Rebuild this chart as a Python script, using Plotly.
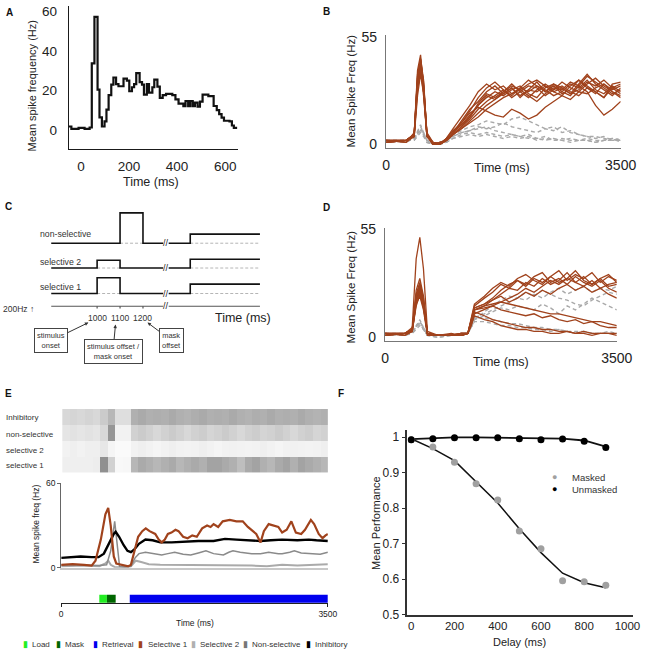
import plotly.graph_objects as go

W = H = 658
FONT = "Liberation Sans, Arial, sans-serif"
TXT = "#222222"
BROWN = "#a0421c"
GDASH = "#a9a9a9"

# ---------------- Panel A : PSTH ----------------
a_time = [-50,-40,-10,15,36,45,56,69,77,87,98,106,115,126,135,146,156,177,191,201,212,221,230,244,254,
          262,274,283,297,305,318,328,340,354,380,393,406,426,435,446,455,465,474,485,495,506,530,552,565,
          575,585,595,618,628,636,650]
a_rate = [2,0.8,1.3,0.8,1.5,33.7,57,20.5,6.6,2,4.6,10.5,17.8,23,26.6,23.3,22.2,26,25,19.7,21.7,23.3,28.8,
          24.3,23,18,23.3,19,21.7,25.5,22,16.4,17.8,18.4,17.8,15.6,13.5,12.2,14.8,12.2,14.8,12.2,14,12,14.5,
          18,17.3,12.3,10.2,8.2,6.5,4.9,4.6,2.5,1.3,1.3]

# ---------------- Panel B : unmasked traces ----------------
b_time = [0,300,420,470,515,560,610,700,800,900,1000,1125,1250,1375,1500,1625,1750,1875,2000,2125,2250,
          2375,2500,2625,2750,2875,3000,3125,3250,3375,3500]
b_sel = [
    [2,2,5,38,46,30,6,1,0,3,8,14,20,27,31,28,30,26,29,27,30,28,25,27,31,29,33,28,26,30,27],
    [1,2,4,35,44,33,5,0,0,2,6,12,18,22,27,30,26,29,24,28,32,27,30,26,28,33,30,27,24,29,31],
    [2,1,6,30,40,28,4,1,0,3,7,10,15,20,24,27,25,28,30,26,24,29,31,27,25,30,35,32,29,26,28],
    [1,2,5,33,42,31,5,0,1,2,5,9,13,18,22,25,28,24,27,30,29,25,28,32,29,27,31,34,30,27,25],
    [2,2,4,28,38,25,4,1,0,2,5,8,12,16,20,23,26,29,25,28,27,30,27,25,30,33,29,26,31,28,30],
    [1,2,5,36,44,30,5,0,0,3,7,11,16,19,17,15,14,18,16,13,15,19,22,25,23,27,26,29,31,27,24],
    [2,1,4,25,36,27,4,0,1,2,6,10,14,20,25,23,27,30,28,25,22,26,29,28,32,30,27,20,15,18,22],
    [1,2,5,32,41,29,5,1,0,2,5,8,11,14,18,21,24,26,28,31,33,30,27,29,26,31,36,31,28,25,29],
    [2,2,5,34,43,32,5,0,0,2,6,11,17,24,29,32,28,25,29,33,30,27,31,29,26,28,32,30,33,29,26],
    [1,2,4,30,39,27,4,1,0,2,5,9,14,21,26,24,27,31,27,24,28,31,28,30,27,25,29,27,24,31,32],
]
b_other = [
    [2,2,3,7,10,6,2,0,0,2,4,6,7,8,9,7,6,5,4,5,3,4,2,3,2,2,3,2,2,3,2],
    [1,2,2,5,8,5,1,0,1,2,5,7,9,10,12,11,10,13,14,12,10,8,9,6,7,5,4,3,4,2,3],
    [2,1,3,6,9,6,2,0,0,1,3,5,6,5,6,5,4,5,4,3,3,2,3,2,3,2,2,1,2,2,3],
    [1,2,2,4,6,4,1,0,0,2,4,6,7,9,8,9,11,9,8,7,6,8,7,9,6,5,4,4,3,2,2],
    [2,2,3,5,7,5,2,1,0,1,3,4,5,4,5,4,3,4,3,4,2,3,2,2,1,2,2,1,2,3,1],
]

# ---------------- Panel D : masked traces ----------------
d_time = [0,300,410,470,525,580,640,800,1000,1150,1250,1300,1350,1500,1625,1750,1875,2000,2125,2250,2375,
          2500,2625,2750,2875,3000,3125,3250,3375,3500]
d_sel = [
    [2,2,5,40,51,35,3,1,1,1,2,8,15,17,20,24,27,29,26,30,28,31,34,29,32,30,33,28,31,29],
    [1,2,4,22,28,20,2,1,1,2,2,7,14,16,19,22,25,24,28,26,30,27,29,33,28,31,27,30,26,27],
    [2,1,3,18,24,17,2,1,1,1,2,9,16,20,23,27,25,29,27,31,33,28,30,27,31,28,26,29,25,23],
    [1,2,4,20,26,18,2,1,2,1,2,6,12,14,16,18,20,22,25,23,26,29,27,30,28,26,29,25,27,28],
    [2,2,3,16,22,15,2,1,1,2,2,8,14,15,16,14,13,12,11,12,10,11,9,8,9,7,8,6,5,5],
    [1,2,4,19,25,16,2,1,1,1,2,7,13,11,9,8,7,6,5,5,4,4,3,3,2,3,2,2,2,2],
    [2,1,3,17,21,14,1,1,1,2,2,6,11,9,8,6,5,4,4,3,3,2,2,3,2,2,1,2,2,1],
    [1,2,4,21,27,19,2,1,1,1,2,8,15,17,19,21,18,20,23,21,24,22,25,27,24,26,23,25,22,20],
    [2,2,4,24,30,21,2,1,1,1,2,9,17,21,25,28,26,30,32,29,27,31,28,30,34,29,27,30,32,28],
    [1,2,3,18,23,16,2,1,1,2,2,7,14,16,17,18,17,16,15,14,13,12,12,11,10,9,8,8,7,6],
]
d_other = [
    [2,1,2,6,9,5,1,1,1,2,2,6,10,12,14,16,18,20,19,22,20,23,25,22,24,26,23,25,24,26],
    [1,2,2,5,8,5,1,0,1,1,2,5,9,11,13,15,14,16,15,14,17,15,12,16,14,17,20,18,16,14],
    [2,2,3,5,7,4,1,1,1,2,2,5,8,8,7,6,6,5,5,4,4,3,4,3,2,3,2,2,3,2],
    [1,2,2,4,6,4,1,0,1,1,2,6,10,10,9,8,7,7,6,5,5,4,4,3,3,3,2,2,2,2],
    [2,1,3,6,8,5,1,1,1,2,2,5,9,13,16,19,21,20,23,21,24,22,20,19,17,16,19,21,23,22],
]

# ---------------- Panel C : input schematic ----------------
c_names = ["non-selective", "selective 2", "selective 1"]
c_base = [78.0, 52.7, 26.7]
c_pulse = [109.0, 60.7, 42.7]
c_on = [1100, 1000, 1000]
c_off = [1200, 1100, 1100]
c_late = [87.3, 61.7, 36.3]
c_start, c_end = 800, 1710
c_break = [1288, 1312]
c_late_on = 1406
c_axis_level = 13.7
c_ticks = [1000, 1100, 1200]

# ---------------- Panel E : network simulation ----------------
r_sel1 = [0.12,0.12,0.12,0.12,0.14,0.85,0.35,0.05,0.06,0.55,0.65,0.6,0.55,0.6,0.65,0.55,0.6,0.65,0.6,0.7,
          0.7,0.65,0.6,0.5,0.65,0.7,0.6,0.55,0.65,0.7,0.6,0.7,0.65,0.6,0.55]
r_sel2 = [0.1,0.12,0.1,0.12,0.12,0.18,0.08,0.04,0.04,0.1,0.12,0.1,0.08,0.1,0.12,0.1,0.09,0.1,0.12,0.1,
          0.08,0.1,0.11,0.1,0.09,0.1,0.12,0.1,0.08,0.1,0.11,0.1,0.09,0.1,0.12]
r_non = [0.2,0.22,0.2,0.22,0.2,0.3,0.8,0.1,0.1,0.35,0.4,0.35,0.3,0.35,0.4,0.35,0.3,0.35,0.38,0.32,0.35,
         0.4,0.35,0.3,0.35,0.38,0.33,0.35,0.4,0.35,0.3,0.35,0.38,0.32,0.35]
r_inh = [0.3,0.32,0.3,0.33,0.3,0.4,0.55,0.25,0.25,0.6,0.65,0.6,0.62,0.6,0.65,0.6,0.58,0.62,0.65,0.6,0.62,
         0.6,0.65,0.6,0.58,0.62,0.6,0.65,0.6,0.62,0.6,0.65,0.6,0.58,0.6]

e_s1_t = [0,150,300,400,450,520,580,617,650,690,723,800,880,915,960,1010,1064,1110,1160,1234,1280,1319,1360,
          1400,1447,1500,1540,1600,1660,1720,1780,1850,1915,1960,2000,2060,2120,2213,2300,2383,2450,2500,2560,
          2617,2660,2723,2780,2850,2900,2960,3021,3080,3150,3200,3277,3320,3380,3430,3470,3500]
e_s1_v = [2,2.5,2,1.5,5,20,38,42.5,30,8,3,2,1,2,12,22,26,28,26,24,20,18,20,24,25,27,26,22,21,23,22,28,30,29,
          31,29,33,34,33,33,29,27,24,18,26,31,30,29,25,27,33,25,24,27,34,31,24,21,23,24]
e_inh_t = [0,100,255,400,490,560,630,690,715,760,820,870,915,960,1020,1106,1200,1300,1450,1600,1800,2000,2150,
           2300,2500,2617,2750,2900,3100,3250,3350,3500]
e_inh_v = [7,7.5,8,7.5,7.5,10,18,24,25.6,22,16,12,11,13,17,20,19.5,18,18,18.5,19,19,20.5,20,19.5,19,19.5,20,
           19.5,20,19.5,19]
e_non_t = [0,300,500,596,650,702,730,766,850,915,970,1021,1106,1200,1319,1400,1490,1600,1700,1800,1900,2000,
           2129,2200,2255,2350,2500,2617,2723,2850,2900,3000,3060,3150,3277,3400,3500]
e_non_v = [2,1.5,1.5,2,12,33,18,1,0.5,1,7,10,11,10,9,10,11,9.5,9,10.5,12,10,9,11,12,11,10,10,11,10,10,11,12,
           10.5,10,9.5,11]
e_s2_t = [0,300,500,580,617,650,700,800,915,980,1050,1150,1300,1500,1700,1900,2100,2300,2500,2700,2900,3100,
          3300,3500]
e_s2_v = [1,1.5,1,3,5,2,0.5,0.3,1,5,4,2.5,2,2,1.5,2,1.5,2,1.5,1,2,1.5,2,2.5]

epochs = ["Load", "Mask", "Retrieval"]
epoch_start = [500, 600, 900]
epoch_end = [600, 715, 3500]
epoch_col = ["#22ee22", "#006600", "#0000ee"]

# ---------------- Panel F : performance ----------------
f_delay = [0,100,200,300,400,500,600,700,800,900]
f_unmasked = [0.993,0.996,0.999,0.999,0.999,0.996,0.993,0.995,0.989,0.971]
f_masked = [0.993,0.973,0.930,0.869,0.823,0.736,0.686,0.596,0.593,0.583]
f_fit_unmasked = [0.995,0.998,1.0,1.0,0.999,0.998,0.998,0.996,0.991,0.974]
f_fit_masked = [0.996,0.968,0.934,0.875,0.815,0.742,0.675,0.617,0.59,0.576]


def X(p):
    return p / W


def Y(p):
    return 1 - p / H


def dx(a, b):
    return [X(a), X(b)]


def dy(top, bot):
    return [Y(bot), Y(top)]


fig = go.Figure()

# A
fig.add_trace(go.Scatter(x=a_time, y=a_rate, mode="lines", line=dict(color="#111111", width=2.2, shape="hv"),
                         xaxis="x", yaxis="y", showlegend=False))

# B
for s in b_other:
    fig.add_trace(go.Scatter(x=b_time, y=s, mode="lines", line=dict(color=GDASH, width=1.4, dash="4px,3px"),
                             xaxis="x2", yaxis="y2", showlegend=False))
for s in b_sel:
    fig.add_trace(go.Scatter(x=b_time, y=s, mode="lines", line=dict(color=BROWN, width=1.3),
                             xaxis="x2", yaxis="y2", showlegend=False))

# D
for s in d_other:
    fig.add_trace(go.Scatter(x=d_time, y=s, mode="lines", line=dict(color=GDASH, width=1.4, dash="4px,3px"),
                             xaxis="x4", yaxis="y4", showlegend=False))
for s in d_sel:
    fig.add_trace(go.Scatter(x=d_time, y=s, mode="lines", line=dict(color=BROWN, width=1.3),
                             xaxis="x4", yaxis="y4", showlegend=False))

# C
for i in range(3):
    b, p, on, off, late = c_base[i], c_pulse[i], c_on[i], c_off[i], c_late[i]
    fig.add_trace(go.Scatter(x=[on, off, None, c_late_on, c_end], y=[b, b, None, b, b], mode="lines",
                             line=dict(color="#b5b5b5", width=1, dash="3px,2px"),
                             xaxis="x3", yaxis="y3", showlegend=False))
    xs = [c_start, on, on, off, off, c_break[0], None, c_break[1], c_late_on, c_late_on, c_end]
    ys = [b, b, p, p, b, b, None, b, b, late, late]
    fig.add_trace(go.Scatter(x=xs, y=ys, mode="lines", line=dict(color="#111111", width=1.6),
                             xaxis="x3", yaxis="y3", showlegend=False))
ax_x = [c_start, c_break[0], None, c_break[1], c_end]
ax_y = [c_axis_level, c_axis_level, None, c_axis_level, c_axis_level]
for t in c_ticks:
    ax_x += [None, t, t]
    ax_y += [None, c_axis_level, c_axis_level - 2.4]
fig.add_trace(go.Scatter(x=ax_x, y=ax_y, mode="lines", line=dict(color="#555555", width=1.2),
                         xaxis="x3", yaxis="y3", showlegend=False))

# E raster (density)
fig.add_trace(go.Heatmap(z=[r_sel1, r_sel2, r_non, r_inh], x0=50, dx=100, y=[0, 1, 2, 3],
                         colorscale=[[0, "#ffffff"], [1, "#7c7c7c"]], zmin=0, zmax=1, showscale=False,
                         xaxis="x5", yaxis="y5", hoverinfo="skip"))

# E rates
fig.add_trace(go.Scatter(x=e_s2_t, y=e_s2_v, mode="lines", line=dict(color="#aaaaaa", width=2),
                         xaxis="x6", yaxis="y6", showlegend=False))
fig.add_trace(go.Scatter(x=e_non_t, y=e_non_v, mode="lines", line=dict(color="#8a8a8a", width=1.5),
                         xaxis="x6", yaxis="y6", showlegend=False))
fig.add_trace(go.Scatter(x=e_inh_t, y=e_inh_v, mode="lines", line=dict(color="#000000", width=2.4),
                         xaxis="x6", yaxis="y6", showlegend=False))
fig.add_trace(go.Scatter(x=e_s1_t, y=e_s1_v, mode="lines", line=dict(color=BROWN, width=2.2),
                         xaxis="x6", yaxis="y6", showlegend=False))

# E epochs
for name, s, e, c in zip(epochs, epoch_start, epoch_end, epoch_col):
    fig.add_trace(go.Bar(x=[e - s], base=[s], y=[0.33], width=0.62, orientation="h",
                         marker=dict(color=c, line=dict(width=0)),
                         xaxis="x7", yaxis="y7", showlegend=False, name=name))

# F
fig.add_trace(go.Scatter(x=f_delay, y=f_fit_masked, mode="lines", line=dict(color="#111111", width=1.5),
                         xaxis="x8", yaxis="y8", showlegend=False))
fig.add_trace(go.Scatter(x=f_delay, y=f_fit_unmasked, mode="lines", line=dict(color="#111111", width=1.8),
                         xaxis="x8", yaxis="y8", showlegend=False))
fig.add_trace(go.Scatter(x=f_delay, y=f_masked, mode="markers", marker=dict(color="#a0a0a0", size=7),
                         xaxis="x8", yaxis="y8", showlegend=False, name="Masked"))
fig.add_trace(go.Scatter(x=f_delay, y=f_unmasked, mode="markers", marker=dict(color="#000000", size=7),
                         xaxis="x8", yaxis="y8", showlegend=False, name="Unmasked"))

base = dict(showgrid=False, zeroline=False, tickfont=dict(family=FONT, color=TXT))


def axis(**kw):
    d = dict(base)
    d.update(kw)
    return d


layout = dict(
    width=W, height=H, margin=dict(l=0, r=0, t=0, b=0), paper_bgcolor="white", plot_bgcolor="rgba(0,0,0,0)",
    font=dict(family=FONT, color=TXT), showlegend=False, barmode="overlay",
    xaxis=axis(domain=dx(67, 241), range=[-50, 652], anchor="y", showline=True, linecolor="#1a1a1a", linewidth=1.3,
               ticks="", tickvals=[0, 200, 400, 600], tickfont=dict(family=FONT, size=13.5, color=TXT),
               ticklabelstandoff=5),
    yaxis=axis(domain=dy(0, 146), range=[-9.35, 62.5], anchor="x", showline=True, linecolor="#1a1a1a", linewidth=1.3,
               ticks="", tickvals=[0, 20, 40, 60], tickfont=dict(family=FONT, size=13.5, color=TXT),
               ticklabelstandoff=8),
    xaxis2=axis(domain=dx(394, 636), range=[0, 3500], anchor="y2", showline=True, linecolor="#777777", linewidth=1.2,
                ticks="", tickvals=[0, 3500], tickfont=dict(family=FONT, size=14, color=TXT), ticklabelstandoff=4),
    yaxis2=axis(domain=dy(30, 145), range=[-2, 56], anchor="x2", showline=True, linecolor="#777777", linewidth=1.2,
                ticks="", tickvals=[0, 55], tickfont=dict(family=FONT, size=14, color=TXT), ticklabelstandoff=5),
    xaxis3=dict(domain=dx(48, 264), range=[797, 1710], anchor="y3", visible=False),
    yaxis3=dict(domain=dy(200, 320), range=[0, 120], anchor="x3", visible=False),
    xaxis4=axis(domain=dx(393, 632), range=[0, 3500], anchor="y4", showline=True, linecolor="#777777", linewidth=1.2,
                ticks="", tickvals=[0, 3500], tickfont=dict(family=FONT, size=14, color=TXT), ticklabelstandoff=4),
    yaxis4=axis(domain=dy(226, 342), range=[-2, 56], anchor="x4", showline=True, linecolor="#777777", linewidth=1.2,
                ticks="", tickvals=[0, 55], tickfont=dict(family=FONT, size=14, color=TXT), ticklabelstandoff=5),
    xaxis5=dict(domain=dx(60, 334), range=[0, 3500], anchor="y5", visible=False),
    yaxis5=dict(domain=dy(411, 476), range=[-0.5, 3.5], anchor="x5", visible=False),
    xaxis6=axis(domain=dx(59, 334), range=[0, 3500], anchor="y6", showline=True, linecolor="#c8c8c8", linewidth=2,
                showticklabels=False, ticks=""),
    yaxis6=axis(domain=dy(487, 573), range=[0, 60], anchor="x6", showline=True, linecolor="#666666", linewidth=1,
                ticks="outside", ticklen=3, tickcolor="#666666", tickvals=[0, 60],
                tickfont=dict(family=FONT, size=8.5, color=TXT)),
    xaxis7=axis(domain=dx(59, 334), range=[0, 3500], anchor="y7", showline=True, linecolor="#222222", linewidth=1,
                ticks="outside", ticklen=3, tickcolor="#222222", tickvals=[0, 3500],
                tickfont=dict(family=FONT, size=8.5, color=TXT)),
    yaxis7=dict(domain=dy(596, 609), range=[0, 1], anchor="x7", visible=False),
    xaxis8=axis(domain=dx(416, 649), range=[-18, 1027], anchor="y8", showline=True, linecolor="#333333", linewidth=1.5,
                ticks="", tickvals=[0, 200, 400, 600, 800, 1000], ticklabelstandoff=0,
                tickfont=dict(family=FONT, size=11.5, color=TXT)),
    yaxis8=axis(domain=dy(433, 621), range=[0.5, 1.0193], anchor="x8", showline=True, linecolor="#333333", linewidth=1.5,
                ticks="outside", ticklen=4, tickcolor="#333333", tickvals=[0.5, 0.6, 0.7, 0.8, 0.9, 1.0],
                ticktext=["0.5", "0.6", "0.7", "0.8", "0.9", "1"], tickfont=dict(family=FONT, size=12, color=TXT)),
)


def note(text, x, y, size, xanchor="center", yanchor="middle", angle=0, bold=False, color=TXT):
    if bold:
        text = "<b>" + text + "</b>"
    return dict(text=text, x=X(x), y=Y(y), xref="paper", yref="paper", showarrow=False, xanchor=xanchor,
                yanchor=yanchor, textangle=angle, font=dict(family=FONT, size=size, color=color))


ann = []
# panel letters
for letter, x, y in [("A", 6, 7), ("B", 333, 6), ("C", 5, 205), ("D", 333, 206), ("E", 5, 395), ("F", 348, 395)]:
    ann.append(note(letter, x, y, 10, bold=True, color="#111111"))

# axis titles
ann.append(note("Mean spike frequency (Hz)", 29, 82, 11, angle=-90))
ann.append(note("Time (ms)", 152, 180, 12.5))
ann.append(note("Mean Spike Freq (Hz)", 358, 87, 11.5, angle=-90))
ann.append(note("Time (ms)", 514, 165, 12.5))
ann.append(note("Mean Spike Freq (Hz)", 358, 287, 11.5, angle=-90))
ann.append(note("Time (ms)", 513, 363, 12.5))
ann.append(note("Mean spike freq (Hz)", 33, 528, 8.5, angle=-90))
ann.append(note("Time (ms)", 197, 629, 8.5))
ann.append(note("Mean Performance", 383, 527, 11, angle=-90))
ann.append(note("Delay (ms)", 532, 649, 11))

# panel C texts
for name, py in zip(c_names, [233, 261, 287]):
    ann.append(note(name, 35, py, 8.7, xanchor="left", color="#333333"))
ann.append(note("200Hz \u2191", 33, 309, 8.5, xanchor="right", color="#333333"))
ann.append(note("Time (ms)", 247, 318, 12.5))
for t in c_ticks:
    ann.append(dict(text=str(t), x=t, y=2, xref="x3", yref="y3", showarrow=False,
                    font=dict(family=FONT, size=8.5, color="#333333")))
for lvl in c_base + [c_axis_level]:
    ann.append(dict(text="//", x=sum(c_break) / 2, y=lvl, xref="x3", yref="y3", showarrow=False,
                    font=dict(family=FONT, size=9, color="#222222")))
for text, hx, hy, axo, ayo in [("stimulus<br>onset", 87, 323, -37, 18),
                               ("stimulus offset /<br>mask onset", 115, 325, -2.5, 26.5),
                               ("mask<br>offset", 148, 323, 23.5, 17.5)]:
    ann.append(dict(text=text, x=X(hx), y=Y(hy), xref="paper", yref="paper", showarrow=True, ax=axo, ay=ayo,
                    arrowhead=2, arrowsize=0.7, arrowwidth=1, arrowcolor="#333333", bordercolor="#444444",
                    borderwidth=1, borderpad=2, bgcolor="white", standoff=0,
                    font=dict(family=FONT, size=7.5, color="#333333")))

# panel E row labels
for name, py in zip(["Inhibitory", "non-selective", "selective 2", "selective 1"], [420, 437, 453, 469]):
    ann.append(note(name, 0, py, 8, xanchor="left", color="#333333"))

# panel E legend
leg_items = ["Load", "Mask", "Retrieval", "Selective 1", "Selective 2", "Non-selective", "Inhibitory"]
leg_cols = epoch_col + [BROWN, "#b0b0b0", "#777777", "#000000"]
leg_glyph_x = [22, 56, 94, 141, 195, 249, 314]
for name, col, gx in zip(leg_items, leg_cols, leg_glyph_x):
    ann.append(note("\u25ae", gx, 651, 9, color=col))
    ann.append(note(name, gx + 5, 651.5, 8, xanchor="left", color="#333333"))

# panel F legend
for name, col, py in [("Masked", "#a0a0a0", 481), ("Unmasked", "#000000", 493)]:
    ann.append(note("\u25cf", 568, py, 9, color=col))
    ann.append(note(name, 584, py, 9.5, xanchor="left", color="#333333"))

layout["annotations"] = ann
fig.update_layout(**layout)
fig.write_html("out.html", config={"displayModeBar": False},
               post_script="document.body.style.margin='0px';document.body.style.overflow='hidden';")
